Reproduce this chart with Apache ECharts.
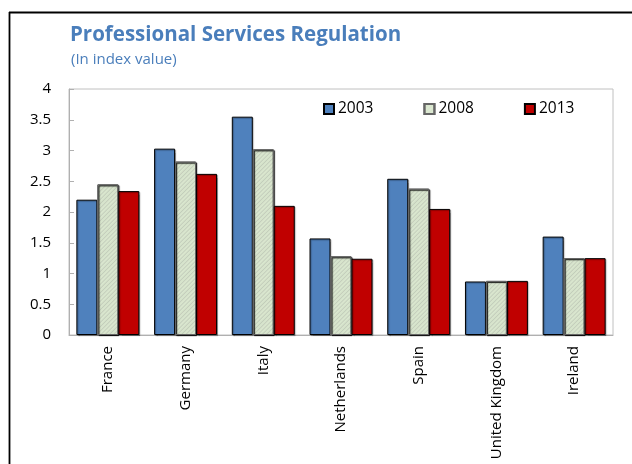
<!DOCTYPE html>
<html>
<head>
<meta charset="utf-8">
<style>
  html, body { margin: 0; padding: 0; background: #fff; }
  #chart { width: 632px; height: 464px; }
</style>
<script src="https://cdn.jsdelivr.net/npm/echarts@6/dist/echarts.min.js"></script>
</head>
<body>
<div id="chart"></div>
<script>
// Professional services regulation index by country
var countries = ['France', 'Germany', 'Italy', 'Netherlands', 'Spain', 'United Kingdom', 'Ireland'];
var years = ['2003', '2008', '2013'];
var values2003 = [2.20, 3.03, 3.55, 1.57, 2.54, 0.87, 1.60];
var values2008 = [2.45, 2.82, 3.02, 1.28, 2.38, 0.88, 1.25];
var values2013 = [2.34, 2.62, 2.10, 1.24, 2.05, 0.88, 1.25];
var yTicks = [0, 0.5, 1, 1.5, 2, 2.5, 3, 3.5, 4];

var FONT = '"Open Sans", "Noto Sans", sans-serif';
var TITLE_BLUE = '#4a7ebb';

var chart = echarts.init(document.getElementById('chart'), null, { renderer: 'canvas' });

function barSeries(name, data, fill, border, decal) {
  var s = {
    name: name,
    type: 'bar',
    data: data,
    barGap: '0%',
    barCategoryGap: '19%',
    itemStyle: {
      color: fill,
      borderColor: border,
      borderWidth: 1,
      shadowColor: 'rgba(0,0,0,0.3)',
      shadowOffsetX: 1,
      shadowOffsetY: 1,
      shadowBlur: 1
    }
  };
  if (decal) s.itemStyle.decal = decal;
  return s;
}

chart.setOption({
  animation: false,
  textStyle: { fontFamily: FONT },
  graphic: [
    // frame around the panel (left and top edges)
    { type: 'line', shape: { x1: 9.5, y1: 12, x2: 9.5, y2: 464 }, style: { stroke: '#000', lineWidth: 1.8 } },
    { type: 'line', shape: { x1: 9, y1: 12.5, x2: 632, y2: 12.5 }, style: { stroke: '#000', lineWidth: 1.8 } },
    { type: 'text', left: 70, top: 25, style: { text: 'Professional Services Regulation', fill: TITLE_BLUE, font: 'bold 20.5px ' + FONT } },
    { type: 'text', left: 71, top: 52, style: { text: '(In index value)', fill: TITLE_BLUE, font: '15px ' + FONT } }
  ],
  legend: {
    data: years,
    top: 96,
    left: 318,
    itemWidth: 10,
    itemHeight: 10,
    itemGap: 50,
    icon: 'rect',
    textStyle: { color: '#000', fontSize: 15.5, fontFamily: FONT, padding: [0, 0, 0, -1] }
  },
  grid: {
    left: 69, top: 89, right: 19, bottom: 129,
    show: true, borderColor: '#c0c0c0', borderWidth: 1, containLabel: false
  },
  xAxis: {
    type: 'category',
    data: countries,
    axisLine: { lineStyle: { color: '#b0b0b0' } },
    axisTick: { inside: true, length: 5, lineStyle: { color: '#b0b0b0' } },
    axisLabel: { rotate: 90, margin: 11, color: '#000', fontSize: 15, fontFamily: FONT }
  },
  yAxis: {
    type: 'value',
    min: yTicks[0],
    max: yTicks[yTicks.length - 1],
    interval: 0.5,
    splitLine: { show: false },
    axisLine: { show: true, lineStyle: { color: '#b0b0b0' } },
    axisTick: { show: true, inside: true, length: 5, lineStyle: { color: '#b0b0b0' } },
    axisLabel: { color: '#000', fontSize: 15, margin: 18, fontFamily: FONT }
  },
  series: [
    barSeries(years[0], values2003, '#4f81bd', '#000'),
    barSeries(years[1], values2008, '#dde9d3', '#666', {
      symbol: 'rect', dashArrayX: [1, 0], dashArrayY: [1, 2],
      rotation: -Math.PI / 4, color: 'rgba(170,195,150,0.12)'
    }),
    barSeries(years[2], values2013, '#c00000', '#000')
  ]
});
</script>
</body>
</html>
